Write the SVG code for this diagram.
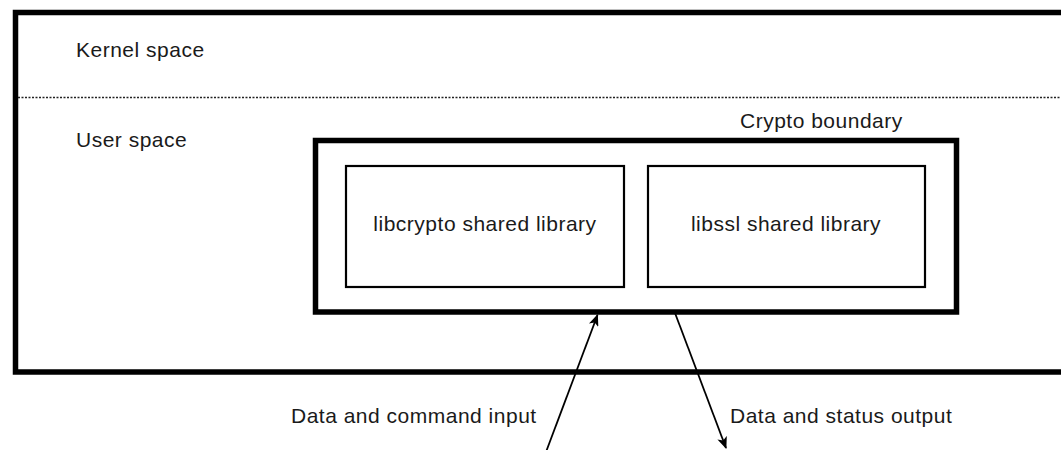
<svg xmlns="http://www.w3.org/2000/svg" width="1061" height="450" viewBox="0 0 1061 450">
<style>
text{font-family:"Liberation Sans",Arial,sans-serif;font-size:21px;letter-spacing:0.5px;fill:#1a1a1a}
.mid{text-anchor:middle}
.thick{fill:none;stroke:#000;stroke-width:5.5}
.box{fill:none;stroke:#000;stroke-width:2.2}
.conn{stroke:#000;stroke-width:1.8;fill:none}
</style>
<defs>
<marker id="arr" viewBox="0 0 12 10" refX="11" refY="5" markerWidth="12" markerHeight="10" markerUnits="userSpaceOnUse" orient="auto">
<path d="M0,0 L12,5 L0,10 L3,5 Z" fill="#000"/>
</marker>
</defs>
<rect width="1061" height="450" fill="#fff"/>
<g id="system">
<path class="thick" d="M1070,12.5 H15.5 V372 H1070"/>
<line x1="18" y1="97.5" x2="1061" y2="97.5" stroke="#222" stroke-width="1.5" stroke-dasharray="2 1.5"/>
<text x="76" y="57">Kernel space</text>
<text x="76" y="147">User space</text>
</g>
<g id="crypto-boundary">
<rect class="thick" x="315.5" y="140.5" width="641" height="171.5"/>
<text x="740" y="128">Crypto boundary</text>
</g>
<g id="libcrypto">
<rect class="box" x="346" y="166" width="278" height="121"/>
<text class="mid" x="485" y="231">libcrypto shared library</text>
</g>
<g id="libssl">
<rect class="box" x="648" y="166" width="277" height="121"/>
<text class="mid" x="786" y="231">libssl shared library</text>
</g>
<g id="connectors">
<line class="conn" x1="546" y1="452" x2="597.5" y2="315" marker-end="url(#arr)"/>
<line class="conn" x1="675" y1="313" x2="726" y2="448" marker-end="url(#arr)"/>
<text x="291" y="423">Data and command input</text>
<text x="730" y="423">Data and status output</text>
</g>
</svg>
